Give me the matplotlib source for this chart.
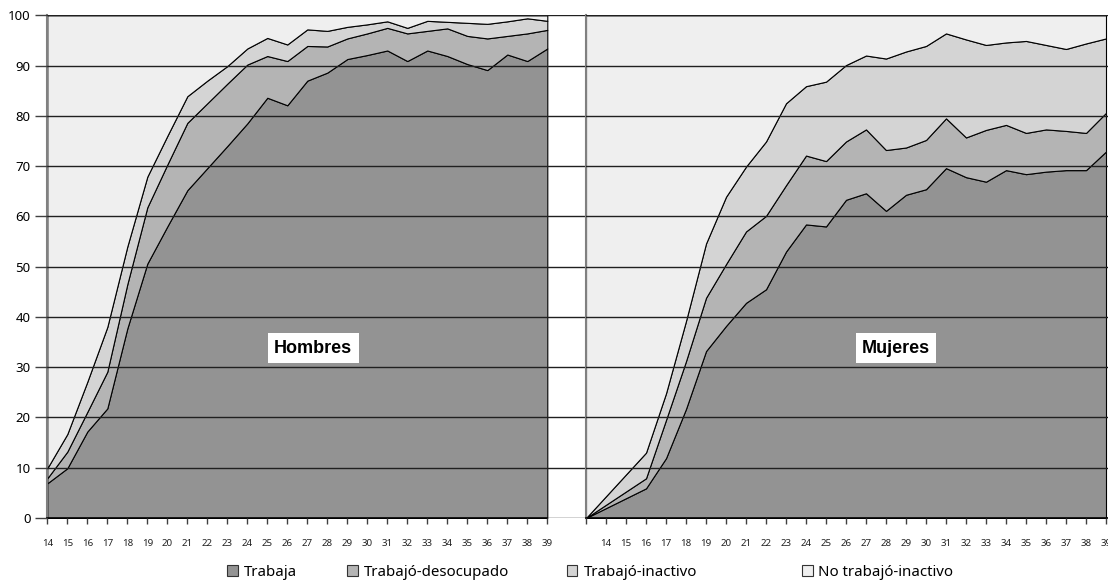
import matplotlib
matplotlib.use("Agg")
import matplotlib.pyplot as plt
from matplotlib.patches import Patch

plt.rcParams['font.family'] = ['Noto Sans', 'DejaVu Sans']

# edades y porcentajes (hombres)
edad_h = [14, 15, 16, 17, 18, 19, 20, 21, 22, 23, 24, 25, 26,
          27, 28, 29, 30, 31, 32, 33, 34, 35, 36, 37, 38, 39]
trabaja_h = [6.9, 9.9, 17.2, 21.8, 37.7, 50.6, 58.0, 65.2, 69.6, 74.0, 78.5, 83.6, 82.1,
             87.0, 88.6, 91.3, 92.1, 93.0, 90.9, 93.0, 91.9, 90.3, 89.1, 92.2, 90.9, 93.4]
desocupado_h = [1.0, 3.3, 3.9, 7.3, 8.8, 11.2, 12.3, 13.4, 12.9, 12.4, 11.7, 8.3, 8.8,
                6.9, 5.2, 4.1, 4.3, 4.5, 5.5, 3.9, 5.5, 5.6, 6.3, 3.7, 5.5, 3.7]
inactivo_h = [2.0, 3.5, 6.0, 8.9, 7.5, 6.1, 5.7, 5.3, 4.5, 3.5, 3.2, 3.6, 3.3,
              3.3, 3.1, 2.3, 1.8, 1.3, 1.1, 2.0, 1.3, 2.6, 2.9, 2.9, 3.0, 1.8]
no_trabajo_h = [90.1, 83.3, 72.9, 62.0, 46.0, 32.1, 24.0, 16.1, 13.0, 10.1, 6.6, 4.5, 5.8,
                2.8, 3.1, 2.3, 1.8, 1.2, 2.5, 1.1, 1.3, 1.5, 1.7, 1.2, 0.6, 1.1]

# mujeres (sin datos para 14 y 15)
edad_m = [13, 16, 17, 18, 19, 20, 21, 22, 23, 24, 25, 26,
          27, 28, 29, 30, 31, 32, 33, 34, 35, 36, 37, 38, 39]
trabaja_m = [0, 5.9, 11.9, 21.7, 33.2, 38.2, 42.8, 45.5, 53.0, 58.4, 58.0, 63.3,
             64.6, 61.1, 64.3, 65.4, 69.6, 67.8, 66.9, 69.2, 68.4, 68.9, 69.2, 69.2, 72.9]
desocupado_m = [0, 2.0, 7.6, 9.5, 10.6, 12.3, 14.2, 14.6, 13.2, 13.7, 13.0, 11.6,
                12.7, 12.1, 9.4, 9.8, 9.9, 7.9, 10.3, 9.0, 8.2, 8.4, 7.8, 7.4, 7.7]
inactivo_m = [0, 5.1, 5.3, 8.0, 10.8, 13.4, 12.9, 14.8, 16.3, 13.8, 15.8, 15.2,
              14.7, 18.2, 19.1, 18.7, 16.9, 19.5, 16.9, 16.4, 18.3, 16.8, 16.3, 17.8, 14.8]
no_trabajo_m = [100, 87.0, 75.2, 60.8, 45.4, 36.1, 30.1, 25.1, 17.5, 14.1, 13.2, 9.9,
                8.0, 8.6, 7.2, 6.1, 3.6, 4.8, 5.9, 5.4, 5.1, 5.9, 6.7, 5.6, 4.6]

series = ["Trabaja", "Trabajó-desocupado", "Trabajó-inactivo", "No trabajó-inactivo"]
colores = ["#939393", "#b4b4b4", "#d4d4d4", "#efefef"]

W, H = 1108, 583
fig = plt.figure(figsize=(W / 100, H / 100), dpi=100)

ax1 = fig.add_axes([47.3 / W, 65 / H, (586 - 47.3) / W, 502.7 / H])
ax2 = fig.add_axes([586 / W, 65 / H, (W - 586) / W, 502.7 / H])


def panel(ax, x, ys, xmin, xmax, titulo, tx):
    ax.stackplot(x, ys, colors=colores, edgecolor="black", linewidth=0.8)
    ax.set_xlim(xmin, xmax)
    ax.set_ylim(0, 100)
    ax.set_yticks(range(0, 101, 10))
    ax.grid(axis="y", color="#202020", linewidth=1.0)
    ax.set_axisbelow(False)
    for s in ["top", "right"]:
        ax.spines[s].set_visible(False)
    ax.spines["left"].set_color("#808080")
    ax.spines["left"].set_linewidth(1.5)
    ax.spines["bottom"].set_color("black")
    ax.spines["bottom"].set_linewidth(1.2)
    ax.tick_params(axis="x", length=4, width=1, color="#404040", pad=11,
                   labelsize=7, labelcolor="#222222")
    ax.text(tx, 33.8, titulo, ha="center", va="center", fontsize=13,
            family=["Liberation Sans", "DejaVu Sans"], fontweight="bold", zorder=5,
            bbox=dict(boxstyle="square,pad=0.35", facecolor="white", edgecolor="none"))


panel(ax1, edad_h, [trabaja_h, desocupado_h, inactivo_h, no_trabajo_h],
      14, 14 + 538.7 / 20, "Hombres", 27.3)
ax1.spines["bottom"].set_bounds(14, 39)
ax1.set_xticks(edad_h)
ax1.set_xticklabels([str(a) for a in edad_h])
ax1.tick_params(axis="y", length=9, width=1, color="#404040", pad=3, labelsize=9.5)

panel(ax2, edad_m, [trabaja_m, desocupado_m, inactivo_m, no_trabajo_m],
      13, 13 + 522 / 20, "Mujeres", 28.5)
ticks_m = list(range(13, 40))
ax2.set_xticks(ticks_m)
ax2.set_xticklabels([""] + [str(a) for a in ticks_m[1:]])
ax2.tick_params(axis="y", length=0, labelleft=False)

# leyenda: una entrada por serie, en la línea inferior
pos_x = [227, 347, 567, 802]
for nombre, col, px in zip(series, colores, pos_x):
    h = Patch(facecolor=col, edgecolor="#333333", linewidth=0.8)
    fig.legend(handles=[h], labels=[nombre], loc="center left",
               bbox_to_anchor=(px / W, 1 - 572 / H), frameon=False,
               fontsize=10.8, handlelength=0.7, handleheight=0.7,
               handletextpad=0.4, borderpad=0, borderaxespad=0)

fig.savefig("out.png", dpi=100)
